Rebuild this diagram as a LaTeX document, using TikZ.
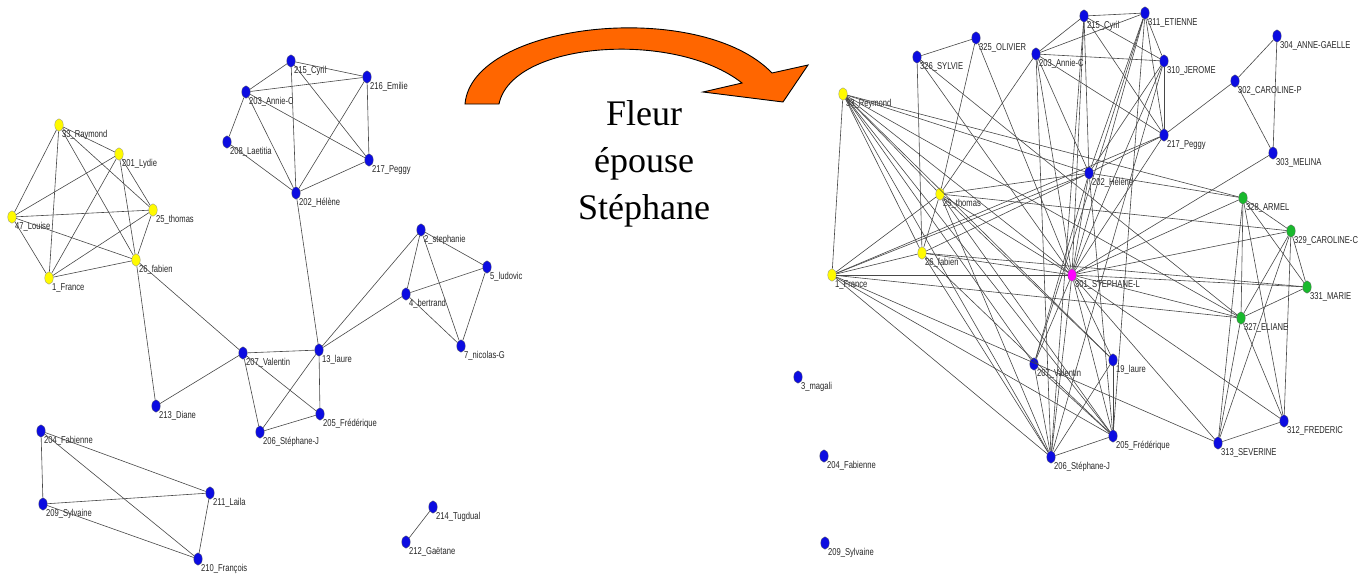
\documentclass[tikz,border=0pt]{standalone}
\usepackage{fontspec}
\setmainfont{Liberation Serif}
\newfontfamily\labfont{Liberation Sans}
\usetikzlibrary{shapes.geometric}
\definecolor{nblue}{RGB}{12,12,225}
\definecolor{nyellow}{RGB}{255,250,0}
\definecolor{ngreen}{RGB}{25,185,45}
\definecolor{nmag}{RGB}{255,0,255}
\definecolor{arrorange}{RGB}{255,102,0}
\newcommand\pp[4]{\node[#1] (#2) at (#3) {};
  \node[lbl] at ([xshift=3pt,yshift=-10pt]#2.center) {\scalebox{0.76}[1]{#4}};}
\tikzset{
  nd/.style={ellipse,inner sep=0pt,minimum width=8.5pt,minimum height=12.5pt,draw=black!60,line width=0.3pt},
  bn/.style={nd,fill=nblue},
  yn/.style={nd,fill=nyellow,draw=black!45},
  gn/.style={nd,fill=ngreen},
  mn/.style={nd,fill=nmag},
  lbl/.style={anchor=west,inner sep=0pt,font=\labfont\fontsize{10}{10}\selectfont,text=black!85},
  ed/.style={draw=black!72,line width=0.6pt},
}
\begin{document}
\begin{tikzpicture}[x=1pt,y=-1pt]
\useasboundingbox (0,0) rectangle (1362,576);
% ---------------- left graph ----------------
\pp{yn}{R33}{59,125}{33\_Raymond}
\pp{yn}{L201}{119,154}{201\_Lydie}
\pp{yn}{L47}{12,217}{47\_Louise}
\pp{yn}{T25}{153,210}{25\_thomas}
\pp{yn}{F26}{136,260}{26\_fabien}
\pp{yn}{F1}{49,278}{1\_France}
\pp{bn}{C215}{291,61}{215\_Cyril}
\pp{bn}{E216}{367,77}{216\_Emilie}
\pp{bn}{A203}{246,92}{203\_Annie-C}
\pp{bn}{L208}{227,142}{208\_Laetitia}
\pp{bn}{P217}{369,160}{217\_Peggy}
\pp{bn}{H202}{296,193}{202\_Hélène}
\pp{bn}{S2}{421,230}{2\_stephanie}
\pp{bn}{L5}{487,267}{5\_ludovic}
\pp{bn}{B4}{406,294}{4\_bertrand}
\pp{bn}{N7}{461,346}{7\_nicolas-G}
\pp{bn}{L13}{319,350}{13\_laure}
\pp{bn}{V207}{243,353}{207\_Valentin}
\pp{bn}{D213}{156,406}{213\_Diane}
\pp{bn}{F205}{320,414}{205\_Frédérique}
\pp{bn}{S206}{260,432}{206\_Stéphane-J}
\pp{bn}{F204}{41,431}{204\_Fabienne}
\pp{bn}{S209}{43,504}{209\_Sylvaine}
\pp{bn}{L211}{210,493}{211\_Laila}
\pp{bn}{F210}{198,559}{210\_François}
\pp{bn}{T214}{433,507}{214\_Tugdual}
\pp{bn}{G212}{406,542}{212\_Gaëtane}
\foreach \a/\b in {R33/L201,R33/L47,R33/F1,R33/T25,R33/F26,
  L201/L47,L201/F1,L201/T25,L201/F26,L47/T25,L47/F26,L47/F1,
  T25/F1,T25/F26,F26/F1,F26/V207,F26/D213,D213/V207,
  C215/E216,C215/A203,A203/E216,A203/L208,A203/H202,A203/P217,
  C215/H202,C215/P217,E216/P217,E216/H202,L208/H202,P217/H202,H202/L13,
  L13/S2,L13/B4,L13/V207,L13/F205,L13/S206,V207/F205,V207/S206,S206/F205,
  S2/L5,S2/B4,S2/N7,B4/L5,B4/N7,L5/N7,
  F204/S209,F204/L211,F204/F210,S209/L211,S209/F210,L211/F210,T214/G212}
  \draw[ed] (\a) -- (\b);
% ---------------- arrow and text ----------------
\draw[fill=arrorange,draw=black,line width=0.9pt,line join=miter]
  (465,104) .. controls (472,22) and (700,-2) .. (772,73)
  -- (808,65) -- (783,102) -- (703,92) -- (742,83)
  .. controls (675,30) and (512,41) .. (499,104) -- cycle;
\node[align=center,font=\fontsize{36}{47}\selectfont] (txt) at (644,164) {Fleur\\épouse\\Stéphane};
% ---------------- right graph ----------------
\pp{yn}{r33}{843,94}{33\_Reymond}
\pp{yn}{r25}{940,194}{25\_thomas}
\pp{yn}{r26}{922,253}{26\_fabien}
\pp{yn}{r1}{832,275}{1\_France}
\pp{bn}{r326}{917,57}{326\_SYLVIE}
\pp{bn}{r325}{976,38}{325\_OLIVIER}
\pp{bn}{r203}{1036,54}{203\_Annie-C}
\pp{bn}{r215}{1084,16}{215\_Cyril}
\pp{bn}{r311}{1145,13}{311\_ETIENNE}
\pp{bn}{r310}{1164,61}{310\_JEROME}
\pp{bn}{r217}{1164,135}{217\_Peggy}
\pp{bn}{r202}{1089,173}{202\_Hélène}
\pp{bn}{r304}{1277,36}{304\_ANNE-GAELLE}
\pp{bn}{r302}{1235,81}{302\_CAROLINE-P}
\pp{bn}{r303}{1273,153}{303\_MELINA}
\pp{gn}{r328}{1243,198}{328\_ARMEL}
\pp{gn}{r329}{1291,231}{329\_CAROLINE-C}
\pp{gn}{r331}{1307,287}{331\_MARIE}
\pp{gn}{r327}{1241,318}{327\_ELIANE}
\pp{mn}{r301}{1072,275}{301\_STEPHANE-L}
\pp{bn}{r19}{1113,360}{19\_laure}
\pp{bn}{r207}{1034,364}{207\_Valentin}
\pp{bn}{r205}{1113,436}{205\_Frédérique}
\pp{bn}{r206}{1051,457}{206\_Stéphane-J}
\pp{bn}{r313}{1218,443}{313\_SEVERINE}
\pp{bn}{r312}{1284,421}{312\_FREDERIC}
\pp{bn}{r3}{798,377}{3\_magali}
\pp{bn}{r204}{824,456}{204\_Fabienne}
\pp{bn}{r209}{825,543}{209\_Sylvaine}
\foreach \b in {r33,r25,r26,r1,r326,r325,r203,r215,r311,r310,r217,r202,r303,
  r328,r329,r331,r327,r207,r19,r205,r206,r313,r312}
  \draw[ed] (r301) -- (\b);
\foreach \a/\b in {r326/r325,r325/r25,r326/r26,r203/r25,r203/r215,r203/r311,
  r203/r310,r203/r217,r203/r202,r203/r206,r215/r311,r215/r310,r215/r217,
  r215/r202,r215/r206,r311/r310,r311/r217,r311/r202,r311/r207,r311/r205,
  r310/r217,r310/r202,r310/r206,r217/r202,r217/r302,r302/r304,r304/r303,r302/r303,
  r328/r329,r328/r331,r328/r327,r329/r327,r329/r331,r331/r327,
  r328/r313,r328/r312,r329/r313,r329/r312,r327/r313,r327/r312,r313/r312,
  r207/r206,r207/r205,r19/r206,r19/r205,r206/r205,
  r33/r328,r33/r327,r33/r202,r33/r207,r33/r205,r33/r206,r33/r25,r33/r26,r33/r1,r33/r19,
  r1/r25,r1/r26,r1/r202,r1/r327,r1/r205,r1/r206,r1/r313,r1/r217,
  r25/r26,r25/r202,r25/r329,r25/r206,r25/r205,r25/r19,
  r26/r202,r26/r206,r26/r205,r26/r331,r326/r327,r202/r207,r202/r205,r202/r328}
  \draw[ed] (\a) -- (\b);
\end{tikzpicture}
\end{document}
